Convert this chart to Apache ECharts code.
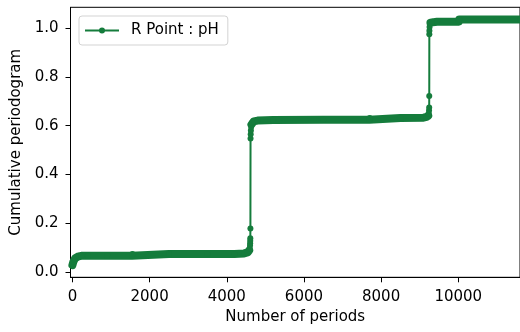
<!DOCTYPE html>
<html><head><meta charset="utf-8">
<script src="https://cdn.jsdelivr.net/npm/echarts@6/dist/echarts.min.js"></script>
<style>html,body{margin:0;padding:0;background:#fff}#c{width:520px;height:332px}</style>
</head><body><div id="c"></div>
<script>
const seriesName = 'R Point : pH';
const xTicks = [0, 2000, 4000, 6000, 8000, 10000];
const yTicks = [0, 0.2, 0.4, 0.6, 0.8, 1.0];
// dense flat run before first jump
const run1Periods = [0, 10, 25, 45, 70, 110, 160, 230, 400, 900, 1545, 1555, 2500, 3500, 4200, 4450, 4540, 4580];
const run1Values  = [0.028, 0.034, 0.042, 0.05, 0.056, 0.061, 0.064, 0.066, 0.066, 0.066, 0.066, 0.074, 0.074, 0.074, 0.074, 0.076, 0.08, 0.088];
// first jump
const jump1Periods = [4595, 4603, 4606, 4608, 4610, 4613, 4616, 4620, 4625, 4632];
const jump1Values  = [0.097, 0.108, 0.118, 0.128, 0.138, 0.178, 0.548, 0.565, 0.58, 0.595];
// dense flat run between jumps
const run2Periods = [4640, 4660, 4700, 4800, 5200, 6500, 7695, 7705, 8500, 9100, 9180, 9220];
const run2Values  = [0.605, 0.613, 0.618, 0.621, 0.624, 0.625, 0.625, 0.632, 0.632, 0.633, 0.636, 0.641];
// second jump
const jump2Periods = [9236, 9242, 9246, 9248, 9250, 9252, 9256, 9262];
const jump2Values  = [0.65, 0.662, 0.675, 0.7215, 0.975, 0.99, 1.005, 1.017];
// dense flat run after second jump
const run3Periods = [9280, 9330, 9450, 10015, 10025, 11000, 11600];
const run3Values  = [1.023, 1.027, 1.027, 1.027, 1.036, 1.036, 1.036];

const pairs = (xs, ys) => xs.map((x, i) => [x, ys[i]]);
const allData = [].concat(
  pairs(run1Periods, run1Values), pairs(jump1Periods, jump1Values),
  pairs(run2Periods, run2Values), pairs(jump2Periods, jump2Values),
  pairs(run3Periods, run3Values));
const bandData = [].concat(
  pairs(run1Periods, run1Values), [[null, null]],
  pairs(run2Periods, run2Values), [[null, null]],
  pairs(run3Periods, run3Values));

const GREEN = '#157c3c';
const FONT = 'DejaVu Sans';
const chart = echarts.init(document.getElementById('c'), null, {renderer: 'canvas'});
chart.setOption({
  animation: false,
  backgroundColor: '#fff',
  grid: {left: 70.5, top: 7.3, right: -1.5, bottom: 54.7, show: true, borderColor: '#000', borderWidth: 1, containLabel: false},
  legend: {
    data: [seriesName], left: 79, top: 16, orient: 'vertical',
    itemWidth: 34, itemHeight: 7.5,
    padding: [7, 9, 7, 5],
    borderColor: '#d3d3d3', borderWidth: 1, borderRadius: 3,
    backgroundColor: 'rgba(255,255,255,0.8)',
    textStyle: {fontFamily: FONT, fontSize: 15, color: '#000', padding: [0, 0, 0, 7]}
  },
  xAxis: {
    type: 'value', min: -50, max: 11600,
    name: 'Number of periods', nameLocation: 'middle', nameGap: 32,
    nameTextStyle: {fontFamily: FONT, fontSize: 15, color: '#000'},
    axisLine: {show: true, onZero: false, lineStyle: {color: '#000', width: 1}},
    axisTick: {show: true, length: 5, lineStyle: {color: '#000'}, customValues: xTicks},
    axisLabel: {fontFamily: FONT, fontSize: 15, color: '#000', margin: 12, customValues: xTicks, formatter: v => String(v)},
    splitLine: {show: false}
  },
  yAxis: {
    type: 'value', min: -0.022, max: 1.086,
    name: 'Cumulative periodogram', nameLocation: 'middle', nameGap: 46,
    nameTextStyle: {fontFamily: FONT, fontSize: 15, color: '#000'},
    axisLine: {show: true, onZero: false, lineStyle: {color: '#000', width: 1}},
    axisTick: {show: true, length: 5, lineStyle: {color: '#000'}, customValues: yTicks},
    axisLabel: {fontFamily: FONT, fontSize: 15, color: '#000', margin: 12, customValues: yTicks, formatter: v => v.toFixed(1)},
    splitLine: {show: false}
  },
  series: [
    {
      name: 'band', type: 'line', data: bandData, connectNulls: false,
      showSymbol: false, silent: true, clip: true,
      lineStyle: {color: GREEN, width: 8, cap: 'round', join: 'round'},
      itemStyle: {color: GREEN}, z: 2
    },
    {
      name: seriesName, type: 'line', data: allData, clip: true,
      symbol: 'circle', symbolSize: 6, showAllSymbol: true,
      lineStyle: {color: GREEN, width: 2},
      itemStyle: {color: GREEN}, z: 3
    }
  ]
});
</script></body></html>
